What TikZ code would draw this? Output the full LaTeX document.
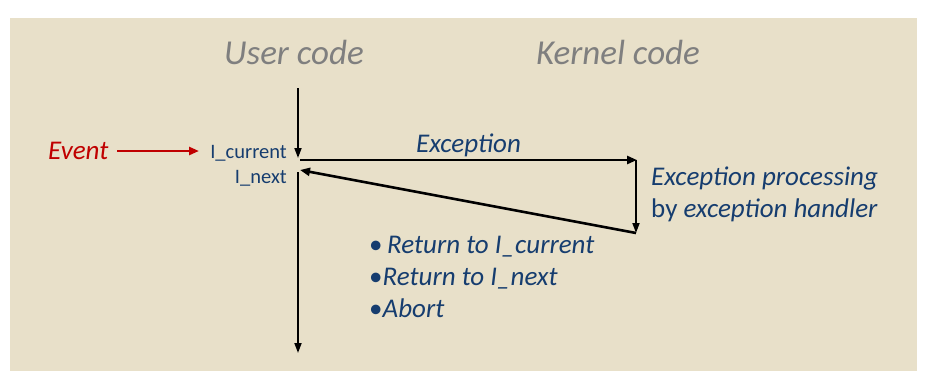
\documentclass[tikz,border=0pt]{standalone}
\usepackage{fontspec}
\setmainfont{Carlito}
\usetikzlibrary{arrows.meta,positioning,calc}
\definecolor{paper}{HTML}{E8E0C9}
\definecolor{ink}{HTML}{163D6F}
\definecolor{titlegray}{HTML}{7F7F7F}
\definecolor{eventred}{HTML}{C00000}

\begin{document}
\begin{tikzpicture}[x=1pt,y=-1pt,
    flow/.style={line width=2.6pt,-{Triangle[length=10pt,width=8pt]}},
    timeline/.style={line width=1.8pt,-{Triangle[length=10pt,width=7pt]}},
    title/.style={titlegray,font=\fontsize{35}{40}\selectfont\itshape,anchor=base},
    label/.style={ink,font=\fontsize{27}{32}\selectfont\itshape,inner sep=0pt},
    instr/.style={ink,font=\fontsize{20.5}{24}\selectfont,anchor=base east,inner sep=0pt}]
  \useasboundingbox (0,0) rectangle (935,381);
  \fill[paper] (10,18) rectangle (917,371);
  % headings
  \node[title] (usr) at (294,64) {User code};
  \node[title] (krn) at (618,64) {Kernel code};
  % points on the user timeline
  \coordinate (utop) at (298,88);
  \coordinate (icur) at (298,158);
  \coordinate (xstart) at (300,160);
  \coordinate (xend) at (637,160);
  \coordinate (hstart) at (636,160);
  \coordinate (hend) at (636,233);
  \coordinate (inxt) at (300,170);
  \coordinate (ubot) at (298,172);
  \coordinate (uend) at (298,353);
  \draw[timeline] (utop) -- (icur);
  \draw[timeline] (ubot) -- (uend);
  % instruction labels
  \node[instr] (cur) at (287,158) {I\_current};
  \node[instr] (nxt) at (287,183) {I\_next};
  % the event
  \node[eventred,font=\fontsize{27}{32}\selectfont\itshape,anchor=base west,inner sep=0pt] (evt) at (48,159) {Event};
  \coordinate (evtstart) at (117,151);
  \coordinate (evtend) at (199,151);
  \draw[eventred,line width=2.6pt,-{Triangle[length=10pt,width=8pt]}] (evtstart) -- (evtend);
  % exception and handler
  \draw[flow] (xstart) -- (xend);
  \node[label,anchor=base] (exc) at ($(xstart)!0.5!(xend)+(0,-8)$) {Exception};
  \draw[timeline] (hstart) -- (hend);
  \draw[flow] (hend) -- (inxt);
  \node[label,anchor=base west] (proc) at (651,185) {Exception processing};
  \node[label,anchor=base west] (hdl) at (651,217) {{\upshape by} exception handler};
  % possible outcomes
  \node[label,anchor=base west] (ret1) at (369,253) {{\upshape\textbullet}\,Return to I\_current};
  \node[label,anchor=base west] (ret2) at (369,285) {{\upshape\textbullet}Return to I\_next};
  \node[label,anchor=base west] (abrt) at (369,317) {{\upshape\textbullet}Abort};
\end{tikzpicture}
\end{document}
